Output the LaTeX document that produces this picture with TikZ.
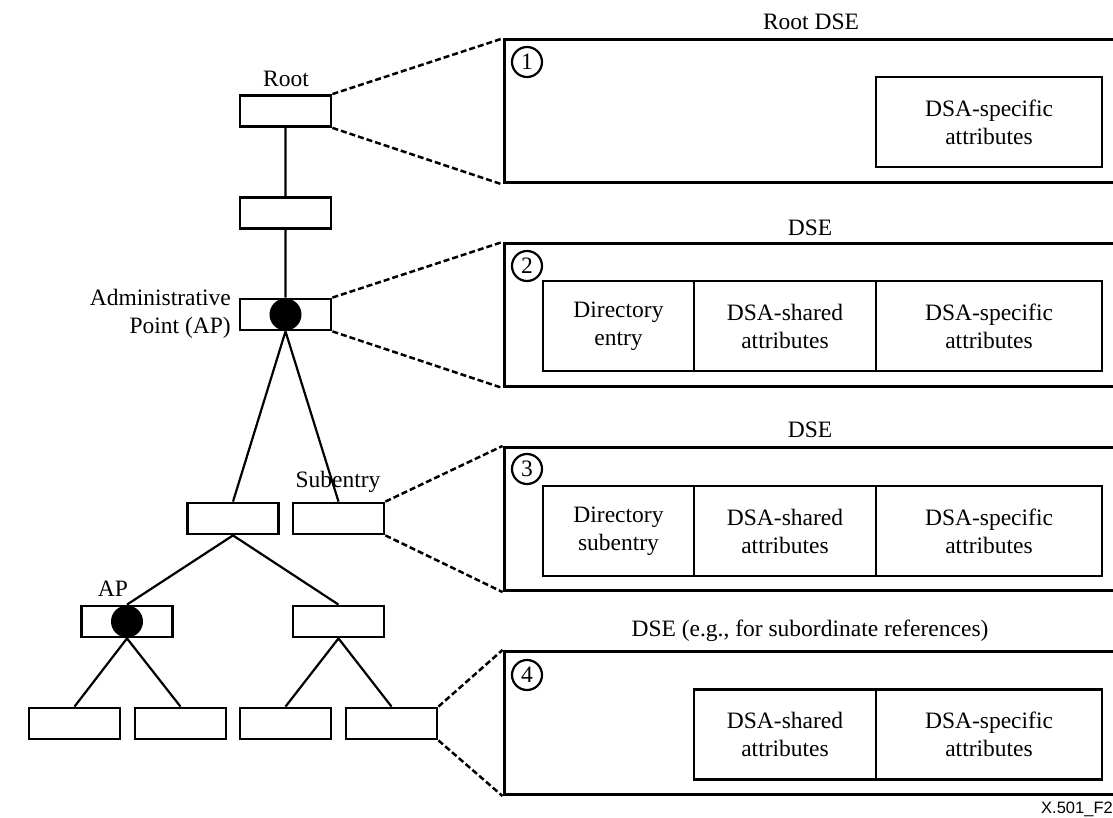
\documentclass[tikz,border=0pt]{standalone}
\usepackage{fontspec}
\setmainfont{Liberation Serif}
\newfontfamily\tagfont{Liberation Sans}
\usepackage{tikz}

\begin{document}
\begin{tikzpicture}[x=1pt,y=-1pt,font=\fontsize{23.5}{28}\selectfont,
  treebox/.style={draw,line width=2.8pt,minimum width=91pt,minimum height=31pt,inner sep=0pt},
  apdot/.style={circle,fill=black,minimum size=32pt,inner sep=0pt},
  panel/.style={draw,line width=3pt,minimum width=640pt,minimum height=143pt,inner sep=0pt},
  cell/.style={draw,line width=2.8pt,minimum height=90pt,inner sep=0pt,align=center},
  num/.style={circle,draw,line width=2.2pt,minimum size=30pt,inner sep=0pt},
  branch/.style={line width=2.2pt},
  zoomline/.style={line width=2.5pt,dash pattern=on 6pt off 3pt}]

\useasboundingbox (0,0) rectangle (1113,818);
\clip (0,0) rectangle (1113,818);

% tree of DSEs
\node[treebox] (t1) at (285.5,111) {};
\node[treebox] (t2) at (285.5,213) {};
\node[treebox] (t3) at (285.5,314.5) {};
\node[treebox] (t4) at (233,518.5) {};
\node[treebox] (t5) at (338.5,518.5) {};
\node[treebox] (t6) at (127,621.5) {};
\node[treebox] (t7) at (338.5,621.5) {};
\node[treebox] (t8) at (74.5,723.5) {};
\node[treebox] (t9) at (180.5,723.5) {};
\node[treebox] (t10) at (285.5,723.5) {};
\node[treebox] (t11) at (391.5,723.5) {};

\draw[branch] (t1) -- (t2) (t2) -- (t3)
  (t3.south) -- (t4.north) (t3.south) -- (t5.north)
  (t4.south) -- (t6.north) (t4.south) -- (t7.north)
  (t6.south) -- (t8.north) (t6.south) -- (t9.north)
  (t7.south) -- (t10.north) (t7.south) -- (t11.north);

\node[apdot] (d1) at (t3) {};
\node[apdot] (d2) at (t6) {};

\node (l1) at (286,79) {Root};
\node[anchor=east,align=right,inner sep=0pt] (l2) at (231,313.5) {Administrative\\Point (AP)};
\node (l3) at (338,482) {Subentry};
\node (l4) at (113,589) {AP};

% the four kinds of DSE
\node[panel] (p1) at (824,111.5) {};
\node[panel] (p2) at (824,315) {};
\node[panel] (p3) at (824,519) {};
\node[panel] (p4) at (824,723) {};

\node (h1) at (811,22) {Root DSE};
\node (h2) at (810,228) {DSE};
\node (h3) at (810,430) {DSE};
\node (h4) at (810,631) {DSE (e.g., for subordinate references)};

\node[num] (n1) at (527,62) {1};
\node[num] (n2) at (527,266) {2};
\node[num] (n3) at (527,469) {3};
\node[num] (n4) at (527,675) {4};

\node[cell,minimum width=226pt] (c13) at (989,122) {DSA-specific\\attributes};

\node[cell,minimum width=151pt] (c21) at (618.5,326) {Directory\\entry};
\node[cell,minimum width=182pt] (c22) at (785,326) {DSA-shared\\attributes};
\node[cell,minimum width=226pt] (c23) at (989,326) {DSA-specific\\attributes};

\node[cell,minimum width=151pt] (c31) at (618.5,531) {Directory\\subentry};
\node[cell,minimum width=182pt] (c32) at (785,531) {DSA-shared\\attributes};
\node[cell,minimum width=226pt] (c33) at (989,531) {DSA-specific\\attributes};

\node[cell,minimum width=182pt] (c42) at (785,734.5) {DSA-shared\\attributes};
\node[cell,minimum width=226pt] (c43) at (989,734.5) {DSA-specific\\attributes};

\draw[zoomline] (t1.north east) -- (p1.north west) (t1.south east) -- (p1.south west)
  (t3.north east) -- (p2.north west) (t3.south east) -- (p2.south west)
  (t5.north east) -- (p3.north west) (t5.south east) -- (p3.south west)
  (t11.north east) -- (p4.north west) (t11.south east) -- (p4.south west);

\node[anchor=west,inner sep=0pt,font=\tagfont\fontsize{16.5}{18}\selectfont] (tag) at (1041,809) {X.501\_F21};

\end{tikzpicture}
\end{document}
